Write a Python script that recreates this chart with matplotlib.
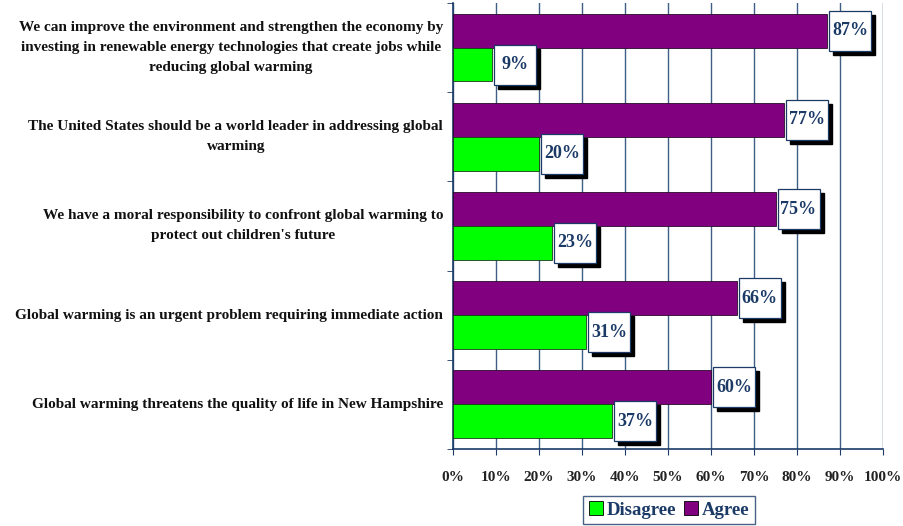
import matplotlib.pyplot as plt
from matplotlib.patches import Patch, Rectangle
from matplotlib.transforms import IdentityTransform
import numpy as np

categories = [
    "We can improve the environment and strengthen the economy by\ninvesting in renewable energy technologies that create jobs while\nreducing global warming",
    "The United States should be a world leader in addressing global\nwarming",
    "We have a moral responsibility to confront global warming to\nprotect out children's future",
    "Global warming is an urgent problem requiring immediate action",
    "Global warming threatens the quality of life in New Hampshire",
]
agree = [87, 77, 75, 66, 60]
disagree = [9, 20, 23, 31, 37]

NAVY = "#1B3A66"
GRID = "#3F5F85"
SERIF = "Liberation Serif"

fig = plt.figure(figsize=(9.04, 5.26), dpi=100)
ax = fig.add_axes([0.5011, 0.1464, 0.4757, 0.8479])

y = np.arange(len(categories))
h = 0.38
ax.barh(y - h / 2, agree, height=h, color="#800080", edgecolor="#2a0a2a", linewidth=0.6, zorder=3)
ax.barh(y + h / 2, disagree, height=h, color="#00FF00", edgecolor="#1a3a1a", linewidth=0.6, zorder=3)

ax.set_xlim(0, 100)
ax.set_ylim(len(categories) - 0.5, -0.5)
ax.set_xticks(np.arange(0, 101, 10))
ax.set_xticklabels([f"{v}%" for v in range(0, 101, 10)], fontfamily=SERIF,
                   fontweight="bold", fontsize=11, color="#222222")
ax.grid(axis="x", color=GRID, linewidth=1.0, zorder=0)
ax.set_axisbelow(True)

ax.set_yticks(y)
ax.set_yticklabels([])
ax.tick_params(axis="y", which="major", length=0)
ax.set_yticks(np.arange(-0.5, len(categories) + 0.5, 1), minor=True)
ax.tick_params(axis="y", which="minor", length=4, color=NAVY, direction="out")
ax.tick_params(axis="x", length=4, color=NAVY, direction="out", pad=12)

for s in ["top", "right"]:
    ax.spines[s].set_visible(False)
for s in ["left", "bottom"]:
    ax.spines[s].set_color(NAVY)
    ax.spines[s].set_linewidth(1.2)

for i, lab in enumerate(categories):
    ax.text(-0.023, i, lab, transform=ax.get_yaxis_transform(), ha="right", va="center",
            multialignment="center", fontfamily=SERIF, fontweight="bold", fontsize=11,
            color="#111111", linespacing=1.7)

# value boxes, sized in pixels next to the bar end
BW, BH, GAP, SH = 42, 40, 2, 4
def value_label(x, yy):
    px, py = ax.transData.transform((x, yy))
    left = px + GAP
    fig.add_artist(Rectangle((left + SH, py - BH / 2 - SH), BW, BH, transform=IdentityTransform(),
                             fc="black", ec="black", zorder=4))
    fig.add_artist(Rectangle((left, py - BH / 2), BW, BH, transform=IdentityTransform(),
                             fc="white", ec=NAVY, lw=0.9, zorder=5))
    fig.text(left + BW / 2, py, f"{x}%", transform=IdentityTransform(), ha="center", va="center",
             fontfamily=SERIF, fontweight="bold", fontsize=13, color=NAVY, zorder=6)

for i in range(len(categories)):
    value_label(agree[i], y[i] - h / 2)
    value_label(disagree[i], y[i] + h / 2)

handles = [Patch(facecolor="#00FF00", edgecolor="black", lw=0.6),
           Patch(facecolor="#800080", edgecolor="black", lw=0.6)]
leg = fig.legend(handles, ["Disagree", "Agree"], loc="center", bbox_to_anchor=(669 / 904, 1 - 510 / 526),
                 ncol=2, frameon=True, fancybox=False, handlelength=0.75, handleheight=0.75,
                 handletextpad=0.2, columnspacing=0.4, borderpad=0.3, borderaxespad=0,
                 prop={"family": SERIF, "weight": "bold", "size": 13.5})
leg.get_frame().set_edgecolor(NAVY)
leg.get_frame().set_linewidth(1.0)
for t in leg.get_texts():
    t.set_color(NAVY)

fig.savefig("out.png", dpi=100)
